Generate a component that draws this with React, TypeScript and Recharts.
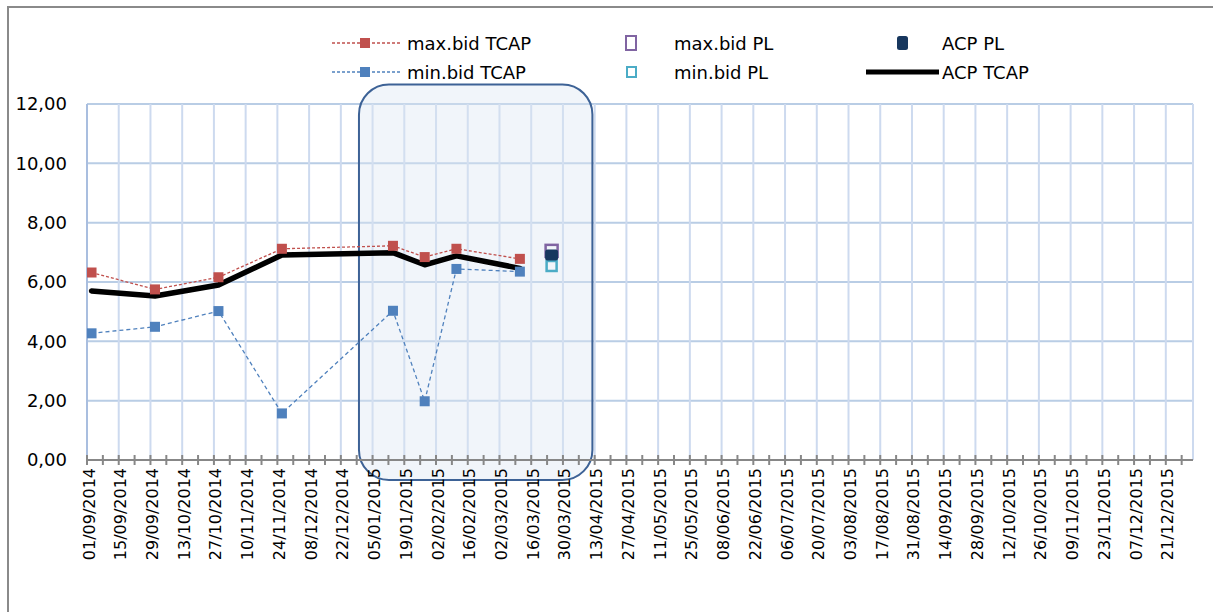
import { LineChart, Line, XAxis, YAxis, CartesianGrid, ReferenceArea } from 'recharts';

// dd/mm/yyyy -> UTC ms
const toMs = (s: string) => {
  const [d, m, y] = s.split('/').map(Number);
  return Date.UTC(y, m - 1, d);
};
const fmt = (ms: number) => {
  const d = new Date(ms);
  const dd = String(d.getUTCDate()).padStart(2, '0');
  const mm = String(d.getUTCMonth() + 1).padStart(2, '0');
  return `${dd}/${mm}/${d.getUTCFullYear()}`;
};

// TCAP series (weekly auction dates)
const tcapDates = ['03/09/2014', '01/10/2014', '29/10/2014', '26/11/2014', '14/01/2015', '28/01/2015', '11/02/2015', '11/03/2015'];
const maxBidTcap = [6.32, 5.75, 6.16, 7.12, 7.22, 6.84, 7.12, 6.78];
const minBidTcap = [4.27, 4.49, 5.02, 1.57, 5.03, 1.98, 6.44, 6.35];
const acpTcap = [5.7, 5.53, 5.9, 6.91, 6.99, 6.58, 6.88, 6.46];

// PL series (single auction)
const plDates = ['25/03/2015'];
const maxBidPl = [7.05];
const acpPl = [6.91];
const minBidPl = [6.54];

const xLabels = [
  '01/09/2014', '15/09/2014', '29/09/2014', '13/10/2014', '27/10/2014', '10/11/2014', '24/11/2014',
  '08/12/2014', '22/12/2014', '05/01/2015', '19/01/2015', '02/02/2015', '16/02/2015', '02/03/2015',
  '16/03/2015', '30/03/2015', '13/04/2015', '27/04/2015', '11/05/2015', '25/05/2015', '08/06/2015',
  '22/06/2015', '06/07/2015', '20/07/2015', '03/08/2015', '17/08/2015', '31/08/2015', '14/09/2015',
  '28/09/2015', '12/10/2015', '26/10/2015', '09/11/2015', '23/11/2015', '07/12/2015', '21/12/2015',
];
const yTicks = [0, 2, 4, 6, 8, 10, 12];
const xStart = '01/09/2014';
const xEnd = '02/01/2016';

// highlighted window (annotation box)
const boxDates = ['30/12/2014', '12/04/2015'];
const boxValues = [-0.67, 12.66];

const WEEK = 7 * 86400000;
const labelMs = xLabels.map(toMs);
const labelSet = new Set(labelMs);
const allTicks = labelMs.flatMap((t) => [t, t + WEEK]);

const rows = [
  ...tcapDates.map((d, i) => ({ t: toMs(d), maxBid: maxBidTcap[i], minBid: minBidTcap[i], acp: acpTcap[i] })),
  ...plDates.map((d, i) => ({ t: toMs(d), plMax: maxBidPl[i], plAcp: acpPl[i], plMin: minBidPl[i] })),
].sort((a, b) => a.t - b.t);

const FONT = '"DejaVu Sans", sans-serif';

const square = (w: number, h: number, fill: string, stroke: string, sw: number, rx = 0) => (p: any) => {
  const { cx, cy, index } = p;
  if (cx == null || cy == null || Number.isNaN(cy)) return <g key={`e-${index}`} />;
  return (
    <rect key={`s-${index}`} x={cx - w / 2} y={cy - h / 2} width={w} height={h}
      fill={fill} stroke={stroke} strokeWidth={sw} rx={rx} />
  );
};

const XTick = (props: any) => {
  const { x, y, payload } = props;
  const ay = y - 8; // axis line position
  const label = labelSet.has(payload.value) ? fmt(payload.value) : '';
  return (
    <g>
      <line x1={x} x2={x} y1={ay - 5} y2={ay + 5} stroke="#878787" strokeWidth={2} />
      {label && (
        <text x={x + 2} y={ay + 8} transform={`rotate(-90 ${x + 2} ${ay + 8})`} textAnchor="end"
          dominantBaseline="central" fontSize={16} fontFamily={FONT} fill="#000">
          {label}
        </text>
      )}
    </g>
  );
};

const Box = (p: any) => (
  <rect x={p.x} y={p.y} width={p.width} height={p.height} rx={30} ry={30}
    fill="#dce6f2" fillOpacity={0.4} stroke="#3d6296" strokeWidth={2} />
);

const Legend = () => (
  <svg width={1213} height={100} style={{ position: 'absolute', left: 0, top: 0, pointerEvents: 'none' }}>
    <g fontFamily={FONT} fontSize={18} fill="#000">
      <line x1={332} x2={400} y1={43} y2={43} stroke="#c0504d" strokeWidth={1.3} strokeDasharray="3 2" />
      <rect x={360} y={38} width={10} height={10} fill="#c0504d" />
      <text x={407} y={43} dominantBaseline="central">max.bid TCAP</text>
      <line x1={332} x2={400} y1={72} y2={72} stroke="#4f81bd" strokeWidth={1.3} strokeDasharray="3 2" />
      <rect x={360} y={67} width={10} height={10} fill="#4f81bd" />
      <text x={407} y={72} dominantBaseline="central">min.bid TCAP</text>

      <rect x={626} y={36} width={10} height={14} fill="none" stroke="#8064a2" strokeWidth={2} />
      <text x={674} y={43} dominantBaseline="central">max.bid PL</text>
      <rect x={627} y={67} width={9} height={10} fill="none" stroke="#4bacc6" strokeWidth={2} />
      <text x={674} y={72} dominantBaseline="central">min.bid PL</text>

      <rect x={897} y={36} width={11} height={14} rx={2.5} fill="#17375e" />
      <text x={942} y={43} dominantBaseline="central">ACP PL</text>
      <line x1={866} x2={939} y1={72} y2={72} stroke="#000" strokeWidth={5} />
      <text x={942} y={72} dominantBaseline="central">ACP TCAP</text>
    </g>
  </svg>
);

export default function App() {
  return (
    <div style={{ position: 'fixed', left: 0, top: 0, width: 1213, height: 612, background: '#fff', overflow: 'hidden' }}>
      <div style={{ position: 'absolute', left: 7, top: 6, width: 1206, height: 606, borderTop: '2px solid #8a8a8a', borderLeft: '2px solid #8a8a8a', boxSizing: 'border-box' }} />
      <div style={{ position: 'absolute', left: 0, top: 0 }}>
        <LineChart width={1213} height={612} data={rows} margin={{ top: 104, right: 20, bottom: 52, left: 0 }}>
          <CartesianGrid vertical={false} stroke="#b9cde5" strokeWidth={2} />
          <CartesianGrid horizontal={false} verticalValues={[...labelMs, toMs(xEnd)]} stroke="#cddaef" strokeWidth={2} />
          <XAxis dataKey="t" type="number" domain={[toMs(xStart), toMs(xEnd)]} ticks={allTicks} interval={0}
            height={100} tickSize={8} tickMargin={0} tickLine={false} tick={<XTick />}
            axisLine={{ stroke: '#878787', strokeWidth: 2 }} allowDataOverflow />
          <YAxis domain={[0, 12]} ticks={yTicks} width={87} tickLine={false} tickSize={8} tickMargin={12}
            tickFormatter={(v: number) => v.toFixed(2).replace('.', ',')}
            tick={{ fontSize: 18, fontFamily: FONT, fill: '#000' }}
            axisLine={{ stroke: '#a9bedf', strokeWidth: 2 }} />
          <ReferenceArea x1={toMs(boxDates[0])} x2={toMs(boxDates[1])} y1={boxValues[0]} y2={boxValues[1]}
            ifOverflow="visible" shape={<Box />} />
          <Line dataKey="maxBid" stroke="#c0504d" strokeWidth={1.3} strokeDasharray="3 2" connectNulls
            dot={square(10, 10, '#c0504d', 'none', 0)} isAnimationActive={false} />
          <Line dataKey="minBid" stroke="#4f81bd" strokeWidth={1.3} strokeDasharray="4 3" connectNulls
            dot={square(10, 10, '#4f81bd', 'none', 0)} isAnimationActive={false} />
          <Line dataKey="acp" stroke="#000" strokeWidth={5.5} strokeLinejoin="round" strokeLinecap="round"
            connectNulls dot={false} isAnimationActive={false} />
          <Line dataKey="plMax" stroke="none" dot={square(12, 12, 'none', '#8064a2', 2.5)} isAnimationActive={false} />
          <Line dataKey="plMin" stroke="none" dot={square(10, 10, 'none', '#4bacc6', 2.5)} isAnimationActive={false} />
          <Line dataKey="plAcp" stroke="none" dot={square(13, 11, '#17375e', 'none', 0, 2.5)} isAnimationActive={false} />
        </LineChart>
      </div>
      <Legend />
    </div>
  );
}
